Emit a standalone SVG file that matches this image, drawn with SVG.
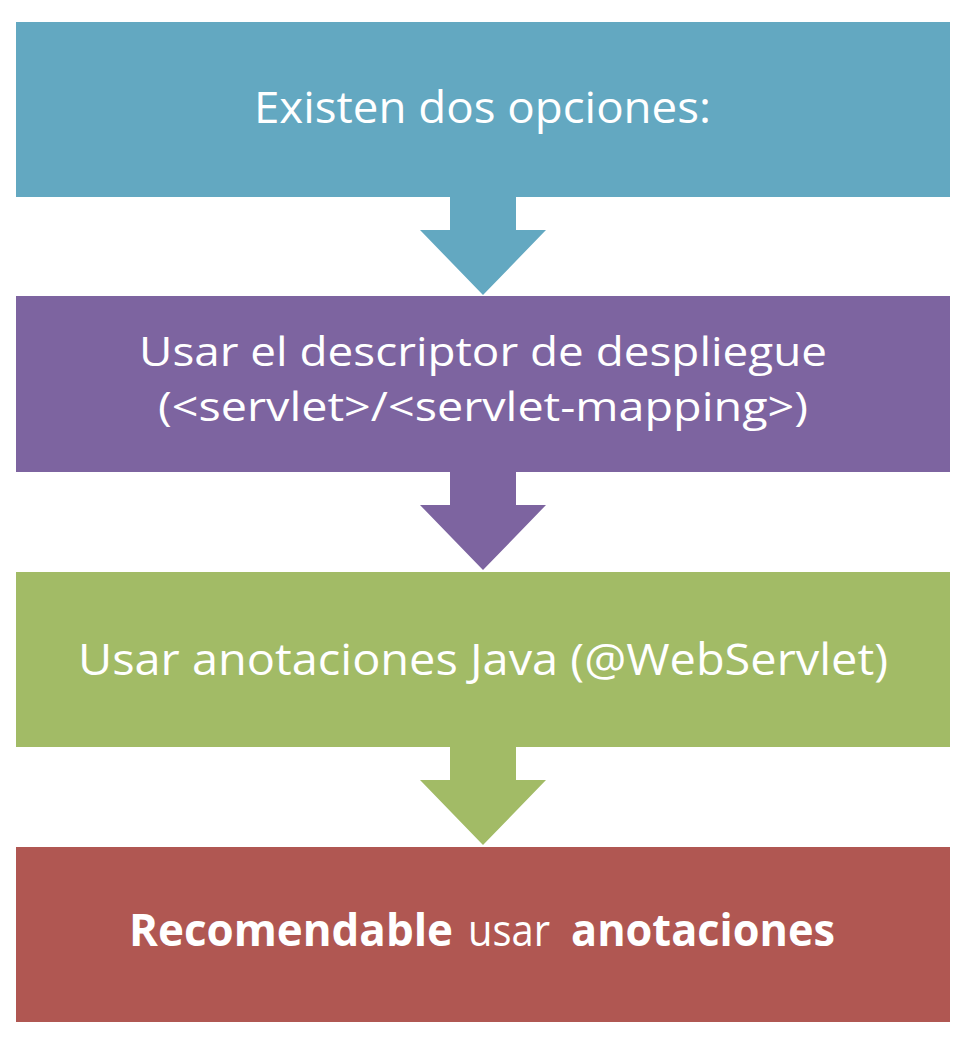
<svg xmlns="http://www.w3.org/2000/svg" width="966" height="1044" viewBox="0 0 966 1044">
<style>
.lbl{font-family:"Open Sans","Noto Sans","Liberation Sans",sans-serif;font-size:44px;fill:#ffffff}
.sm{font-size:40px}
.b{font-weight:bold}
.c1{fill:#63A8C1}.c2{fill:#7D64A0}.c3{fill:#A2BB66}.c4{fill:#B05752}
</style>
<rect width="966" height="1044" fill="#ffffff"/>
<g id="connectors">
<polygon class="c1" points="450,196 516,196 516,230 546,230 483,295 420,230 450,230"/>
<polygon class="c2" points="450,471 516,471 516,505 546,505 483,570 420,505 450,505"/>
<polygon class="c3" points="450,746 516,746 516,780 546,780 483,845 420,780 450,780"/>
</g>
<g id="node1">
<rect class="c1" x="16" y="22" width="934" height="175"/>
<text class="lbl" x="254" y="123" textLength="457" lengthAdjust="spacingAndGlyphs">Existen dos opciones:</text>
</g>
<g id="node2">
<rect class="c2" x="16" y="296" width="934" height="176"/>
<text class="lbl sm" x="139" y="366" textLength="688" lengthAdjust="spacingAndGlyphs">Usar el descriptor de despliegue</text>
<text class="lbl sm" x="158" y="421" textLength="650" lengthAdjust="spacingAndGlyphs">(&lt;servlet&gt;/&lt;servlet-mapping&gt;)</text>
</g>
<g id="node3">
<rect class="c3" x="16" y="572" width="934" height="175"/>
<text class="lbl" x="78" y="675" textLength="810" lengthAdjust="spacingAndGlyphs">Usar anotaciones Java (@WebServlet)</text>
</g>
<g id="node4">
<rect class="c4" x="16" y="847" width="934" height="175"/>
<text class="lbl" y="946"><tspan class="b" x="129" textLength="324" lengthAdjust="spacingAndGlyphs">Recomendable</tspan><tspan x="468" textLength="82" lengthAdjust="spacingAndGlyphs">usar</tspan><tspan class="b" x="571" textLength="264" lengthAdjust="spacingAndGlyphs">anotaciones</tspan></text>
</g>
</svg>
